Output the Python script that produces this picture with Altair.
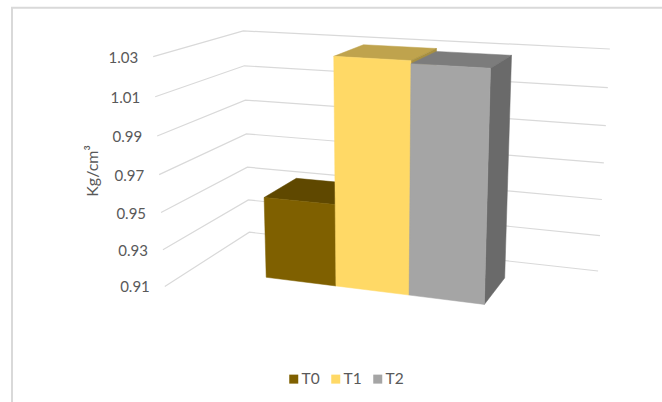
import numpy as np
import pandas as pd
import altair as alt

series = ["T0", "T1", "T2"]
values = [0.954, 1.03, 1.0285]
ticks = [0.91, 0.93, 0.95, 0.97, 0.99, 1.01, 1.03]
tick_labels = ["0.91", "0.93", "0.95", "0.97", "0.99", "1.01", "1.03"]
axis_title = ["Kg/cm³"]
front = ["#7F6000", "#FFD966", "#A5A5A5"]
top = ["#5F4800", "#BFA34D", "#7C7C7C"]
side = ["#4F3C00", "#A89040", "#6A6A6A"]

# Perspective camera of the 3D box: columns are width, depth, height (0-1 over the value range), 1.
CAMERA = np.array([
    [333.80688, 121.38323, -19.60596, 164.77925],
    [14.36919, -19.87504, -232.67270, 286.41106],
    [-0.11122, 0.14776, -0.05215, 1.0],
])
VALUE_MIN, VALUE_MAX = 0.91, 1.03

# Bars sit side by side with no gap; depth range is where they stand on the floor.
BAR_EDGES = [0.210, 0.402, 0.595, 0.785]
DEPTH_FRONT, DEPTH_BACK = 0.306, 0.722


def project(u, d, v):
    h = (v - VALUE_MIN) / (VALUE_MAX - VALUE_MIN)
    p = CAMERA @ np.array([u, d, h, 1.0])
    return p[0] / p[2], p[1] / p[2]


def table(pts):
    return pd.DataFrame([{"i": i, "x": p[0], "y": p[1]} for i, p in enumerate(pts)])


pixel_x = alt.Scale(domain=[0, 662], range=[0, 662])
pixel_y = alt.Scale(domain=[0, 402], range=[0, 402])
X = alt.X("x:Q", scale=pixel_x, axis=None)
Y = alt.Y("y:Q", scale=pixel_y, axis=None)


def face(pts, color):
    return (
        alt.Chart(table(pts + pts[:1]))
        .mark_line(fill=color, stroke=color, strokeWidth=0.5)
        .encode(x=X, y=Y, order="i:Q")
    )


layers = []

# Chart frame: only its left and top edges fall inside the page.
layers.append(
    alt.Chart(pd.DataFrame({"x": [12, 12, 662], "y": [402, 7.7, 7.7], "i": [0, 1, 2]}))
    .mark_line(color="#D9D9D9", strokeWidth=2)
    .encode(x=X, y=Y, order="i:Q")
)

# Gridlines run along the side wall, then along the back wall.
for v in ticks:
    pts = [project(0, 0, v), project(0, 1, v), project(1, 1, v)]
    layers.append(
        alt.Chart(table(pts))
        .mark_line(color="#D9D9D9", strokeWidth=1.2)
        .encode(x=X, y=Y, order="i:Q")
    )

# Legend entries come from this layer; the marks themselves stay hidden behind the bars.
anchors = pd.DataFrame({
    "series": series,
    "x": [project(BAR_EDGES[k] + 0.09, DEPTH_FRONT, 0.93)[0] for k in range(3)],
    "y": [project(BAR_EDGES[k] + 0.09, DEPTH_FRONT, 0.93)[1] for k in range(3)],
})
layers.append(
    alt.Chart(anchors)
    .mark_square(size=1, opacity=1)
    .encode(
        x=X,
        y=Y,
        color=alt.Color(
            "series:N",
            scale=alt.Scale(domain=series, range=front),
            legend=alt.Legend(
                orient="none", legendX=286, legendY=371, direction="horizontal",
                title=None, symbolType="square", symbolSize=81, symbolStrokeWidth=0,
                symbolOpacity=1, labelFont="Lato", labelFontSize=15.5, labelColor="#595959",
                labelOffset=0, columnPadding=8,
            ),
        ),
    )
)

# Painted left to right, so each bar hides the right side of its neighbour.
for k in range(3):
    a, b, v = BAR_EDGES[k], BAR_EDGES[k + 1], values[k]
    layers.append(face([project(a, DEPTH_FRONT, v), project(b, DEPTH_FRONT, v),
                        project(b, DEPTH_BACK, v), project(a, DEPTH_BACK, v)], top[k]))
    layers.append(face([project(b, DEPTH_FRONT, v), project(b, DEPTH_BACK, v),
                        project(b, DEPTH_BACK, VALUE_MIN), project(b, DEPTH_FRONT, VALUE_MIN)], side[k]))
    layers.append(face([project(a, DEPTH_FRONT, v), project(b, DEPTH_FRONT, v),
                        project(b, DEPTH_FRONT, VALUE_MIN), project(a, DEPTH_FRONT, VALUE_MIN)], front[k]))

tick_table = pd.DataFrame([
    {"x": project(0, 0, v)[0], "y": project(0, 0, v)[1], "t": s}
    for v, s in zip(ticks, tick_labels)
])
layers.append(
    alt.Chart(tick_table)
    .mark_text(align="right", baseline="middle", dx=-15, dy=1, font="Lato", fontSize=15, color="#595959")
    .encode(x=X, y=Y, text="t:N")
)

# Value axis title, turned to read bottom to top.
layers.append(
    alt.Chart(pd.DataFrame({"t": axis_title}))
    .mark_text(align="center", baseline="middle", angle=270, font="Lato", fontSize=16, color="#595959")
    .encode(x=alt.value(93), y=alt.value(171), text="t:N")
)

chart = (
    alt.layer(*layers)
    .properties(width=662, height=402, padding=0, autosize=alt.AutoSizeParams(type="none"))
    .configure_view(stroke=None)
)
chart.save("out.html", embed_options={"renderer": "svg", "actions": False})
